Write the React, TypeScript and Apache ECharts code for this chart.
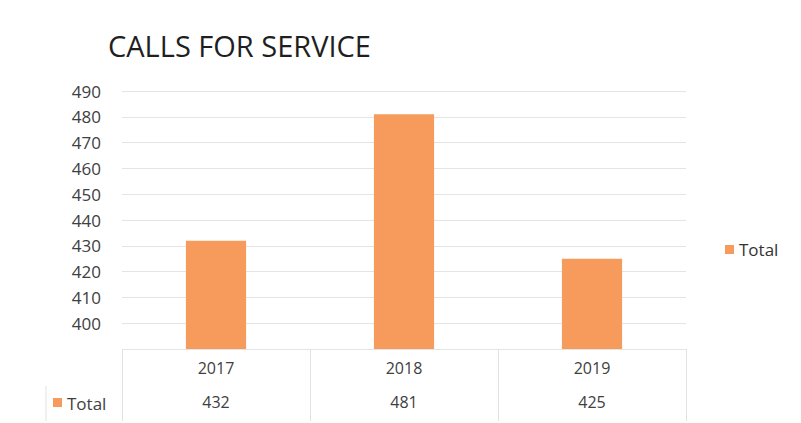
import React, { useEffect, useRef } from "react";
import * as echarts from "echarts";

const titleText = "CALLS FOR SERVICE";
const categories = ["2017", "2018", "2019"];
const totals = [432, 481, 425];
const seriesName = "Total";
const yMin = 390;
const yMax = 490;
const yStep = 10;

export default function App() {
  const ref = useRef<HTMLDivElement>(null);
  useEffect(() => {
    document.body.style.margin = "0";
    if (!ref.current) return;
    const chart = echarts.init(ref.current, null, { renderer: "svg" });
    const font = "'Open Sans', 'Liberation Sans', sans-serif";
    chart.setOption({
      animation: false,
      backgroundColor: "#ffffff",
      title: {
        text: titleText,
        left: 103,
        top: 26,
        textStyle: { fontFamily: font, fontSize: 29, fontWeight: "normal", color: "#1f1f1f" },
      },
      legend: {
        data: [seriesName],
        left: 720,
        top: 236,
        icon: "rect",
        itemWidth: 9,
        itemHeight: 9,
        itemGap: 5,
        textStyle: { fontFamily: font, fontSize: 17, color: "#333333" },
      },
      grid: { left: 122, right: 115, top: 91, bottom: 74 },
      xAxis: [
        {
          type: "category",
          data: categories,
          axisLine: { show: false },
          axisTick: { show: true, length: 72, lineStyle: { color: "#e2e2e2" } },
          axisLabel: { margin: 11, fontFamily: font, fontSize: 16, color: "#404040" },
        },
        {
          type: "category",
          data: totals.map(String),
          position: "bottom",
          offset: 34,
          axisLine: { show: false },
          axisTick: { show: false },
          axisLabel: { margin: 11, fontFamily: font, fontSize: 16, color: "#404040" },
        },
      ],
      yAxis: {
        type: "value",
        min: yMin,
        max: yMax,
        interval: yStep,
        axisLine: { show: false },
        axisTick: { show: false },
        axisLabel: {
          margin: 21,
          fontFamily: font,
          fontSize: 17,
          color: "#404040",
          formatter: (v: number) => (v === yMin ? "" : String(v)),
        },
        splitLine: { lineStyle: { color: "#e4e4e4", width: 1 } },
      },
      series: [
        {
          name: seriesName,
          type: "bar",
          data: totals,
          barWidth: "32%",
          itemStyle: { color: "#F79B5C" },
        },
      ],
      graphic: [
        {
          type: "rect",
          shape: { x: 53, y: 398, width: 9, height: 9 },
          style: { fill: "#F79B5C" },
        },
        {
          type: "text",
          x: 67,
          y: 403,
          style: {
            text: seriesName,
            fontFamily: font,
            fontSize: 17,
            fill: "#404040",
            verticalAlign: "middle",
          },
        },
        {
          type: "line",
          shape: { x1: 46, y1: 386, x2: 46, y2: 421 },
          style: { stroke: "#e2e2e2", lineWidth: 1 },
        },
      ],
    });
    return () => chart.dispose();
  }, []);
  return <div ref={ref} style={{ width: 801, height: 423 }} />;
}
